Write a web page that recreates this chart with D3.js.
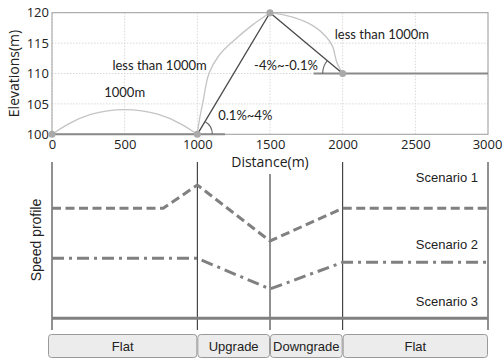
<!DOCTYPE html>
<html>
<head>
<meta charset="utf-8">
<script src="https://cdn.jsdelivr.net/npm/d3@7"></script>
<style>
  body{margin:0;background:#fff;}
  svg text{font-family:"Liberation Sans",Arial,sans-serif;}
</style>
</head>
<body>
<div id="chart"></div>
<script>
// elevation profile (distance m, elevation m)
const track      = [[0,100],[1000,100],[1500,120],[2000,110],[3000,110]];
const knots      = [[0,100],[1000,100],[1500,120],[2000,110]];
const flatArc    = [[0,100],[100,101.6],[250,103.4],[500,104.4],[750,103.4],[900,101.6],[1000,100]];
const upCurve    = [[1000,100],[1015,102.5],[1040,105.5],[1080,110],[1150,113],[1250,115.4],[1380,118],[1500,120]];
const downCurve  = [[1500,120],[1650,119.3],[1800,117.8],[1880,116.2],[1930,114.5],[1960,111.8],[2000,110]];
const xTicks     = [0,500,1000,1500,2000,2500,3000];
const yTicks     = [100,105,110,115,120];

// speed profiles (relative units)
const scen1 = [[0,8.25],[765,8.25],[1000,10],[1500,5.8],[2000,8.25],[3000,8.25]];
const scen2 = [[0,4.5],[1000,4.5],[1500,2.2],[2000,4.2],[3000,4.2]];
const scen3 = [[0,0],[3000,0]];
const scenNames = ["Scenario 1","Scenario 2","Scenario 3"];
const scenLabelY = [10.2, 5.2, 0.95];
const segments = [{name:"Flat",from:0,to:1000},{name:"Upgrade",from:1000,to:1500},
                  {name:"Downgrade",from:1500,to:2000},{name:"Flat",from:2000,to:3000}];

const W = 503, H = 359;
const svg = d3.select("#chart").append("svg").attr("width",W).attr("height",H);

const x  = d3.scaleLinear().domain([0,3000]).range([52,488]);
const y  = d3.scaleLinear().domain([100,120]).range([134.3,12.7]);
const ys = d3.scaleLinear().domain([0,10]).range([318.3,185]);

// grid
const grid = svg.append("g");
xTicks.forEach(t=>{
  grid.append("line").attr("x1",x(t)).attr("x2",x(t)).attr("y1",y(120)).attr("y2",y(100))
      .attr("stroke","#d8d8d8").attr("stroke-dasharray","1.5 1.5");
});
yTicks.forEach(t=>{
  grid.append("line").attr("x1",x(0)).attr("x2",x(3000)).attr("y1",y(t)).attr("y2",y(t))
      .attr("stroke","#d8d8d8").attr("stroke-dasharray","1.5 1.5");
});
svg.append("rect").attr("x",x(0)).attr("y",y(120)).attr("width",x(3000)-x(0)).attr("height",y(100)-y(120))
   .attr("fill","none").attr("stroke","#a0a0a0");

// axes
const xa = svg.append("g").attr("transform",`translate(0,${y(100)})`)
  .call(d3.axisBottom(x).tickValues(xTicks).tickFormat(d3.format("d")).tickSize(0).tickPadding(5));
const ya = svg.append("g").attr("transform",`translate(${x(0)},0)`)
  .call(d3.axisLeft(y).tickValues(yTicks).tickFormat(d3.format("d")).tickSize(0).tickPadding(3));
[xa,ya].forEach(a=>{
  a.select(".domain").remove();
  a.selectAll("text").attr("font-size",13).attr("fill","#222")
   .style("font-family","'Open Sans',sans-serif");
});
xa.selectAll("text").filter(d=>d===3000).attr("dx",-1);

svg.append("text").attr("x",x(1500)).attr("y",167).attr("text-anchor","middle")
   .attr("font-size",14).attr("fill","#222").style("font-family","'Open Sans',sans-serif").text("Distance(m)");
svg.append("text").attr("transform",`translate(19,${(y(100)+y(120))/2}) rotate(-90)`)
   .attr("text-anchor","middle").attr("font-size",14).attr("fill","#222")
   .style("font-family","'Open Sans',sans-serif").text("Elevations(m)");

const line = d3.line().x(d=>x(d[0])).y(d=>y(d[1]));

// light alternative curves
svg.append("path").attr("d",d3.line().x(d=>x(d[0])).y(d=>y(d[1])).curve(d3.curveBasis)(flatArc))
   .attr("fill","none").attr("stroke","#c4c4c4").attr("stroke-width",1.3);
[upCurve, downCurve].forEach(c=>{
  svg.append("path").attr("d",d3.line().x(d=>x(d[0])).y(d=>y(d[1])).curve(d3.curveCatmullRom)(c))
     .attr("fill","none").attr("stroke","#c4c4c4").attr("stroke-width",1.3);
});

// baselines for angles
svg.append("line").attr("x1",x(0)).attr("x2",x(1190)).attr("y1",y(100)).attr("y2",y(100))
   .attr("stroke","#8a8a8a").attr("stroke-width",2);
svg.append("line").attr("x1",x(1800)).attr("x2",x(3000)).attr("y1",y(110)).attr("y2",y(110))
   .attr("stroke","#8a8a8a").attr("stroke-width",2);

// slopes
svg.append("path").attr("d",line(track.slice(1,4))).attr("fill","none")
   .attr("stroke","#4a4a4a").attr("stroke-width",1.3);

// angle arcs
function angleArc(p, q, r, dir){
  const cx=x(p[0]), cy=y(p[1]);
  const a=Math.atan2(y(q[1])-cy, x(q[0])-cx);
  const sx=cx+dir*r, ex=cx+r*Math.cos(a), ey=cy+r*Math.sin(a);
  const sweep = dir>0 ? 0 : 1;
  svg.append("path").attr("d",`M${sx},${cy} A${r},${r} 0 0 ${sweep} ${ex},${ey}`)
     .attr("fill","none").attr("stroke","#666").attr("stroke-width",1.1);
}
angleArc(track[1], track[2], 15, 1);
angleArc(track[3], track[2], 20, -1);

// knots
svg.selectAll("circle.k").data(knots).join("circle").attr("class","k")
   .attr("cx",d=>x(d[0])).attr("cy",d=>y(d[1])).attr("r",3.5).attr("fill","#a9a9a9");

// annotations
const anno = [["1000m",500,106.1],["less than 1000m",740,110.6],["0.1%~4%",1330,102.3],
              ["-4%~-0.1%",1610,110.6],["less than 1000m",2270,115.7]];
anno.forEach(a=>{
  svg.append("text").attr("x",x(a[1])).attr("y",y(a[2])).attr("text-anchor","middle")
     .attr("font-size",13).attr("fill","#222").style("font-family","Lato,sans-serif").text(a[0]);
});

// --- speed panel ---
const bounds = [0,1000,1500,2000,3000];
bounds.forEach(b=>{
  svg.append("line").attr("x1",x(b)).attr("x2",x(b)).attr("y1",b===1500?174:162).attr("y2",330)
     .attr("stroke","#222").attr("stroke-width",1);
});

const sl = d3.line().x(d=>x(d[0])).y(d=>ys(d[1]));
const styles = ["9 4.5","12 5 3 5",null];
[scen1,scen2,scen3].forEach((s,i)=>{
  svg.append("path").attr("d",sl(s)).attr("fill","none").attr("stroke","#808080")
     .attr("stroke-width",3).attr("stroke-dasharray",styles[i]);
  svg.append("text").attr("x",478).attr("y",ys(scenLabelY[i])).attr("text-anchor","end")
     .attr("font-size",13).attr("fill","#222").text(scenNames[i]);
});

svg.append("text").attr("transform",`translate(41,240) rotate(-90)`).attr("text-anchor","middle")
   .attr("font-size",14).attr("fill","#222").text("Speed profile");

// segment boxes
segments.forEach((s,i)=>{
  const x0 = i===0 ? x(s.from)-4 : x(s.from), x1 = x(s.to);
  svg.append("rect").attr("x",x0+0.5).attr("y",334.5).attr("width",x1-x0-1).attr("height",23)
     .attr("rx",3).attr("fill","#ececec").attr("stroke","#9a9a9a");
  svg.append("text").attr("x",(x0+x1)/2).attr("y",351).attr("text-anchor","middle")
     .attr("font-size",13).attr("fill","#222").text(s.name);
});
</script>
</body>
</html>
